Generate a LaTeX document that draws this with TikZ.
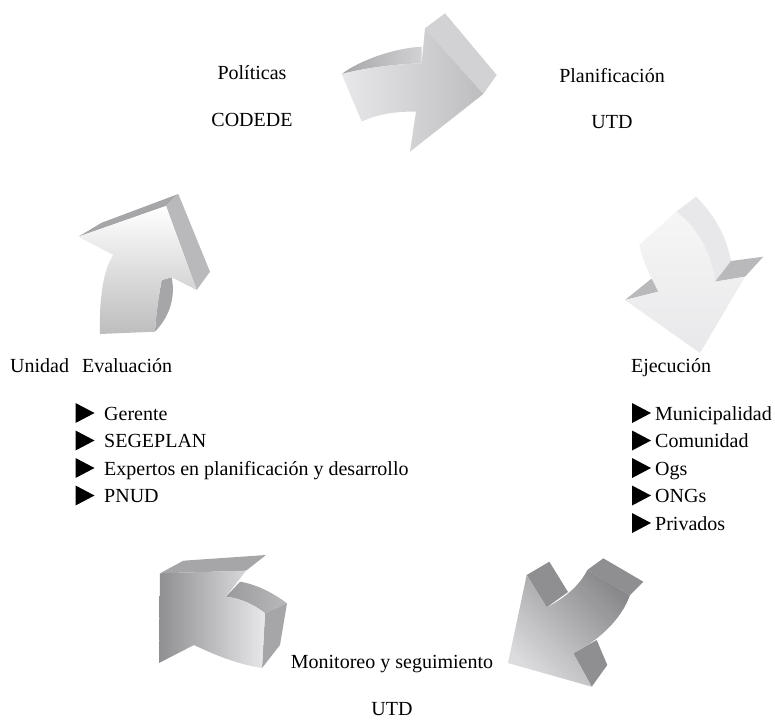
\documentclass[tikz,border=0pt]{standalone}
\usepackage{fontspec}
\setmainfont{Liberation Serif}
\usetikzlibrary{positioning}

\definecolor{gA}{HTML}{E8E8EA}
\definecolor{gB}{HTML}{D2D2D4}
\definecolor{gC}{HTML}{B9B9BC}
\definecolor{gD}{HTML}{8F8F92}
\definecolor{gE}{HTML}{A6A6A9}

\begin{document}
\begin{tikzpicture}[
            x = 1pt, y = -1pt, % picture in pixels, y downwards
            lbl/.style = {font=\fontsize{20}{24}\selectfont, inner sep=0pt, anchor=base}, % text style
            item/.style = {lbl, anchor=base west}, % list entry
            face/.style = {fill=#1, draw=none} % flat side of an arrow
        ]

        \useasboundingbox (0,0) rectangle (775,720);

        % arrow 1: Politicas -> Planificacion
        \fill[face=gB] (425,28.3) -- (445,13.3) -- (496.7,75) -- (483.3,94) -- cycle;
        \shade[left color=gE, right color=gB] (341.7,74) .. controls (360,60) and (395,48) .. (421.7,46.7)
            -- (421.7,63.3) .. controls (395,64) and (365,68) .. (341.7,74) -- cycle;
        \shade[left color=gA, right color=gB!90!black] (425,28.3) -- (483.3,94) -- (410,151.7) -- (416,111.7)
            .. controls (395,111) and (375,115) .. (361.7,121.7) -- (341.7,74)
            .. controls (365,68) and (395,64) .. (421.7,63.3) -- cycle;

        % arrow 2: Planificacion -> Ejecucion
        \fill[face=gA] (676,211.7) -- (696,196.7) .. controls (715,215) and (727,238) .. (731,261)
            -- (715,281.7) .. controls (712,255) and (698,228) .. (676,211.7) -- cycle;
        \fill[face=gC] (715,281.7) -- (731,261) -- (763.3,256.7) -- (745,276.7) -- cycle;
        \fill[face=gC] (625,300) -- (651,279) -- (658,281) -- (658.3,291.7) -- cycle;
        \shade[top color=gA!40!white, bottom color=gA] (639.3,245) -- (676,211.7)
            .. controls (698,228) and (712,255) .. (715,281.7) -- (745,276.7) -- (700,353) -- (625,300)
            -- (658.3,291.7) .. controls (650,275) and (642,260) .. (639.3,245) -- cycle;

        % arrow 3: Ejecucion -> Monitoreo
        \fill[face=gD] (587.3,570) -- (603.3,558.3) -- (643.3,581.7) -- (630,595) -- cycle;
        \fill[face=gD] (526.7,575) -- (549.3,561.7) -- (568,592) -- (546.7,607.3) -- cycle;
        \fill[face=gD] (573.3,653.3) -- (596.7,640) -- (607.3,665) -- (591.7,686.7) -- cycle;
        \shade[top color=gA!95!black, bottom color=gD!105!white, shading angle=135] (526.7,575) -- (546.7,607.3)
            .. controls (565,598) and (580,585) .. (587.3,570) -- (630,595)
            .. controls (622,618) and (600,640) .. (573.3,653.3) -- (591.7,686.7) -- (508,663) -- cycle;

        % arrow 4: Monitoreo -> Unidad Evaluacion
        \fill[face=gE] (160,573.3) -- (183.3,560.7) -- (266,555) -- (246,570.7) -- cycle;
        \shade[left color=gD!90!white, right color=gC] (226,596.7) .. controls (240,598) and (255,605) .. (265,613.3)
            -- (287,603.3) .. controls (272,592) and (255,584) .. (240,581.7) -- cycle;
        \fill[face=gE] (265,613.3) -- (287,603.3) -- (280,645) -- (262,668) -- cycle;
        \shade[left color=gD, right color=gA] (160,573.3) -- (246,570.7) -- (226,596.7)
            .. controls (240,598) and (255,605) .. (265,613.3) -- (262,668)
            .. controls (236,664) and (213,654) .. (194,645) -- (159,663) -- cycle;

        % arrow 5: Unidad Evaluacion -> Politicas
        \fill[face=gE] (78.3,236.7) -- (101.7,222.7) -- (178.3,194) -- (166,206) -- cycle;
        \fill[face=gC] (166,206) -- (178.3,194) -- (210,271.7) -- (196.7,290) -- cycle;
        \fill[face=gE] (161.7,280) -- (171.7,277.3) .. controls (176,300) and (168,318) .. (155,331.7)
            .. controls (156,315) and (158,300) .. (161.7,280) -- cycle;
        \shade[top color=white, bottom color=gB!90!black] (78.3,236.7) -- (166,206) -- (196.7,290) -- (171.7,277.3)
            -- (161.7,280) .. controls (158,300) and (156,315) .. (155,331.7) -- (100,334)
            .. controls (99,300) and (103,270) .. (113.3,255) -- cycle;

        % stage labels
        \node[lbl] (pol) at (252,79) {Políticas};
        \node[lbl] (codede) at (252,126) {CODEDE};
        \node[lbl] (plan) at (612,82) {Planificación};
        \node[lbl] (utdA) at (612,128) {UTD};
        \node[lbl] (eje) at (671,372) {Ejecución};
        \node[lbl] (mon) at (392,668) {Monitoreo y seguimiento};
        \node[lbl] (utdB) at (392,715) {UTD};
        \node[item] (eva) at (10,372) {Unidad\hspace{8pt} Evaluación};

        % lists with triangle bullets
        \foreach \txt [count=\i] in {Municipalidad, Comunidad, Ogs, ONGs, Privados}{
            \node[item] (ej\i) at (655,{420+27.5*(\i-1)}) {\txt};
            \fill (632,{403+27.5*(\i-1)}) -- ++(0,20) -- ++(19,-10) -- cycle;
        }
        \foreach \txt [count=\i] in {Gerente, SEGEPLAN, Expertos en planificación y desarrollo, PNUD}{
            \node[item] (ev\i) at (104,{420+27.5*(\i-1)}) {\txt};
            \fill (75.5,{403+27.5*(\i-1)}) -- ++(0,20) -- ++(19,-10) -- cycle;
        }

    \end{tikzpicture}
\end{document}
